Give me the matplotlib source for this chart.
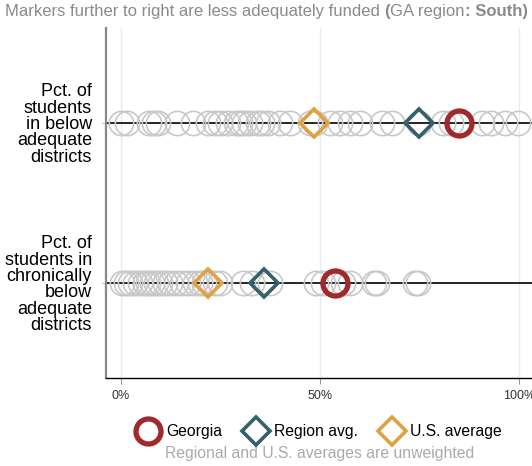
import matplotlib
matplotlib.use("Agg")
import matplotlib.pyplot as plt
from matplotlib.lines import Line2D

plt.rcParams['font.family'] = ['Liberation Sans', 'DejaVu Sans']

# Data (percent of students)
row_labels = ["Pct. of\nstudents\nin below\nadequate\ndistricts",
              "Pct. of\nstudents in\nchronically\nbelow\nadequate\ndistricts"]
states_below = [0, 1.5, 7, 8.3, 9.3, 14, 18, 22, 23.6, 25, 27, 29, 30, 31, 32.5,
                34.5, 35.5, 37, 40, 42.5, 47.5, 48.7, 52.5, 55, 57.5, 60, 65.6, 68,
                75, 81, 83, 85, 90.7, 93, 96.5, 99.7]
states_chronic = [0.3, 1.3, 2.3, 3.5, 4.8, 6, 6.8, 7.8, 8.8, 9.8, 11, 12.3, 13.8,
                  15.3, 16.8, 18.6, 19.8, 21, 23.6, 25, 30.6, 33, 37.4, 49, 50.7,
                  53.8, 55.8, 57.5, 63.6, 64.3, 74, 74.6]
georgia = [85, 53.8]
region_avg = [75, 36]
us_avg = [48.5, 22]
xticks = [0, 50, 100]
xtick_labels = ["0%", "50%", "100%"]

red = "#a1282b"
teal = "#33606b"
orange = "#e0a13f"
gray = "#c8c8c8"

fig = plt.figure(figsize=(5.32, 4.66), dpi=100)
ax = fig.add_axes([0.199, 0.189, 0.801, 0.751])

rows = [1, 0]
for y, vals in zip(rows, [states_below, states_chronic]):
    ax.axhline(y, color="black", lw=1.2, zorder=1)
    ax.plot(vals, [y] * len(vals), ls="none", marker="o", ms=17.5,
            mfc="none", mec=gray, mew=1.2, zorder=2)

ax.plot(georgia, rows, ls="none", marker="o", ms=18, mfc="none",
        mec=red, mew=3.8, zorder=4)
ax.plot(region_avg, rows, ls="none", marker="D", ms=14, mfc="none",
        mec=teal, mew=2.6, zorder=5)
ax.plot(us_avg, rows, ls="none", marker="D", ms=14, mfc="none",
        mec=orange, mew=2.6, zorder=5)

ax.set_xlim(-3.77, 103.3)
ax.set_ylim(-0.594, 1.594)
ax.set_xticks(xticks)
ax.set_xticklabels(xtick_labels, fontsize=9, color="#333333")
ax.set_yticks(rows)
ax.set_yticklabels(row_labels, fontsize=13, linespacing=0.95, ha="right")
ax.tick_params(axis="x", length=4, color="#999999", pad=5)
ax.tick_params(axis="y", length=3, color="#bbbbbb", pad=7)
ax.xaxis.grid(True, color="#ebebeb", lw=1)
ax.set_axisbelow(True)

for s in ["top", "right"]:
    ax.spines[s].set_visible(False)
ax.spines["left"].set_color("#888888")
ax.spines["left"].set_linewidth(1.6)
ax.spines["bottom"].set_color("black")
ax.spines["bottom"].set_linewidth(1)

# Title with bold pieces, chained left to right
title_color = "#8a8a8a"
parts = [("Markers further to right are less adequately funded ", "normal"),
         ("(", "bold"), ("GA region", "normal"), (": South)", "bold")]
ref = fig.text(0.0094, 0.966, parts[0][0], fontsize=12, color=title_color,
               fontweight=parts[0][1], va="baseline")
for txt, w in parts[1:]:
    ref = ax.annotate(txt, xy=(1, 0), xycoords=ref, va="bottom", ha="left",
                      fontsize=12, color=title_color, fontweight=w,
                      annotation_clip=False)

handles = [
    Line2D([], [], ls="none", marker="o", ms=18, mfc="none", mec=red, mew=3.8),
    Line2D([], [], ls="none", marker="D", ms=14, mfc="none", mec=teal, mew=2.6),
    Line2D([], [], ls="none", marker="D", ms=14, mfc="none", mec=orange, mew=2.6),
]
fig.legend(handles, ["Georgia", "Region avg.", "U.S. average"], ncol=3,
           loc="center", bbox_to_anchor=(0.6, 0.073), frameon=False,
           fontsize=11.3, handletextpad=0.4, columnspacing=1.4, handlelength=1.5)
fig.text(0.6, 0.026, "Regional and U.S. averages are unweighted", ha="center",
         va="center", fontsize=11.3, color="#aaaaaa")

fig.savefig("out.png", dpi=100)
